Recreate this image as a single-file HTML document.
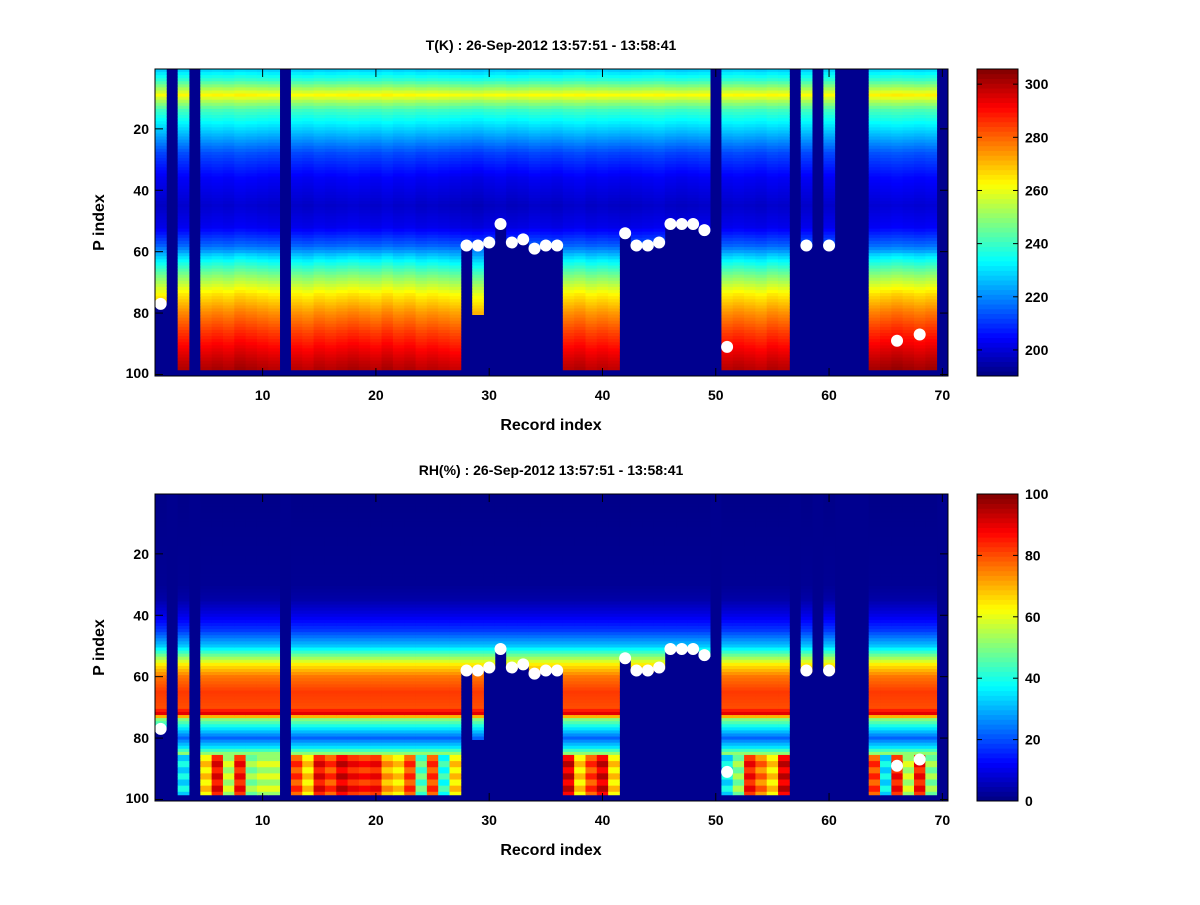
<!DOCTYPE html>
<html><head><meta charset="utf-8">
<style>
html,body{margin:0;padding:0;background:#fff;}
svg text{font-family:"Liberation Sans",Arial,sans-serif;font-weight:bold;fill:#000;}
</style></head>
<body>
<svg id="fig" width="1200" height="900" xmlns="http://www.w3.org/2000/svg">
<rect width="1200" height="900" fill="#fff"/>
</svg>
<script>
// ---- data ----
const recordIndex = Array.from({length:70},(_,i)=>i+1);
const colBottom = [76,0,98,0,98,98,98,98,98,98,98,0,98,98,98,98,98,98,98,98,98,98,98,98,98,98,98,58,80,57,51,57,56,59,58,58,98,98,98,98,98,54,58,58,57,51,51,51,53,0,98,98,98,98,98,98,0,58,0,58,0,0,0,98,98,98,98,98,98,0];
const tKnotRows = [1,4,7,9,11,14,20,28,36,45,52,58,63,68,74,80,86,92,96,98];
const tKnotVals = [228,238,252,262,252,240,228,212,203,198,202,215,232,247,263,274,283,291,296,298];
const tColOffset = [0,0,2,0,2,3,2,4,3,2,1,0,1,0,2,1,2,3,2,1,3,1,2,0,1,0,-1,-2,-3,-1,0,-2,-1,1,0,-1,1,2,0,1,0,-1,0,1,2,0,-1,0,1,0,1,2,1,0,2,1,0,1,0,1,0,0,0,3,4,5,4,3,4,0];
const rhKnotRows = [1,30,35,40,45,50,53,56,60,65,70,72,74,77,80,83,86];
const rhKnotVals = [1,2,4,10,18,32,48,64,76,82,80,90,50,35,22,35,60];
const rhLow = [0,0,40,0,70,92,60,90,55,60,60,0,85,70,92,85,95,90,88,90,75,70,85,50,85,45,70,0,0,0,0,0,0,0,0,0,95,70,85,95,70,0,0,0,0,0,0,0,0,0,40,55,90,80,70,95,0,0,0,0,0,0,0,85,40,90,60,90,55,0];
const dotCols = [1,28,29,30,31,32,33,34,35,36,42,43,44,45,46,47,48,49,51,58,60,66,68];
const dotRows = [77,58,58,57,51,57,56,59,58,58,54,58,58,57,51,51,51,53,91,58,58,89,87];
const xTicks = [10,20,30,40,50,60,70];
const yTicks = [20,40,60,80,100];
const tCbTicks = [200,220,240,260,280,300];
const rhCbTicks = [0,20,40,60,80,100];

// ---- helpers ----
const NS="http://www.w3.org/2000/svg";
const svg=document.getElementById('fig');
function mk(tag,attrs,parent){const e=document.createElementNS(NS,tag);for(const k in attrs)e.setAttribute(k,attrs[k]);(parent||svg).appendChild(e);return e;}
function jet(t){t=Math.max(0,Math.min(1,t));
  const r=Math.max(0,Math.min(1,Math.min(4*t-1.5,-4*t+4.5)));
  const g=Math.max(0,Math.min(1,Math.min(4*t-0.5,-4*t+3.5)));
  const b=Math.max(0,Math.min(1,Math.min(4*t+0.5,-4*t+2.5)));
  return `rgb(${Math.round(r*255)},${Math.round(g*255)},${Math.round(b*255)})`;}
function interp(rows,vals,r){if(r<=rows[0])return vals[0];for(let i=1;i<rows.length;i++){if(r<=rows[i]){const f=(r-rows[i-1])/(rows[i]-rows[i-1]);return vals[i-1]+f*(vals[i]-vals[i-1]);}}return vals[vals.length-1];}

function panel(y0,title,valueFn,vmin,vmax,cbTicks,pname){
  const X0=155,X1=948,Y1=y0+307;
  const xs=c=>X0+(c-0.5)*(X1-X0)/70;
  const ys=r=>y0+(r-0.5)*(Y1-y0)/100;
  const g=mk('g',{});
  
  
  const bg=mk('rect',{x:X0,y:y0,width:X1-X0,height:Y1-y0,fill:'#00008f'},g);
  
  
  const cw=(X1-X0)/70, rh=(Y1-y0)/100;
  for(let c=1;c<=70;c++){
    const nb=colBottom[c-1];
    for(let r=1;r<=nb;r++){
      const v=valueFn(c,r);
      const cell=mk('rect',{x:(xs(c)-cw/2).toFixed(2),y:(ys(r)-rh/2).toFixed(2),width:(cw+0.4).toFixed(2),height:(rh+0.4).toFixed(2),fill:jet((v-vmin)/(vmax-vmin))},g);
      
      
    }
  }
  for(let i=0;i<dotCols.length;i++){
    const d=mk('circle',{cx:xs(dotCols[i]),cy:ys(dotRows[i]),r:6,fill:'#fff'},g);
    
    
  }
  const fr=mk('rect',{x:X0,y:y0,width:X1-X0,height:Y1-y0,fill:'none',stroke:'#000','stroke-width':1},g);
  
  
  xTicks.forEach(t=>{const x=xs(t);
    mk('line',{x1:x,y1:Y1,x2:x,y2:Y1-8,stroke:'#000'},g);mk('line',{x1:x,y1:y0,x2:x,y2:y0+8,stroke:'#000'},g);
    const tx=mk('text',{x:x,y:Y1+24,'font-size':14,'text-anchor':'middle'},g);tx.textContent=t;
    });
  yTicks.forEach(t=>{const y=ys(t);
    mk('line',{x1:X0,y1:y,x2:X0+8,y2:y,stroke:'#000'},g);mk('line',{x1:X1,y1:y,x2:X1-8,y2:y,stroke:'#000'},g);
    const tx=mk('text',{x:X0-6,y:Math.min(y,Y1-3)+5,'font-size':14,'text-anchor':'end'},g);tx.textContent=t;
    });
  const tt=mk('text',{x:551,y:y0-19,'font-size':14,'text-anchor':'middle'},g);tt.textContent=title;
  
  const xl=mk('text',{x:551,y:Y1+54,'font-size':16,'text-anchor':'middle'},g);xl.textContent='Record index';
  
  const yl=mk('text',{x:0,y:0,'font-size':16,'text-anchor':'middle',transform:`translate(104,${(y0+Y1)/2}) rotate(-90)`},g);yl.textContent='P index';
  
  // colorbar
  const CX0=977,CX1=1018,n=64;
  const cb=mk('g',{},g);
  
  
  const sh=(Y1-y0)/n;
  for(let i=0;i<n;i++){mk('rect',{x:CX0,y:(Y1-(i+1)*sh).toFixed(2),width:CX1-CX0,height:(sh+0.4).toFixed(2),fill:jet((i+0.5)/n)},cb);}
  mk('rect',{x:CX0,y:y0,width:CX1-CX0,height:Y1-y0,fill:'none',stroke:'#000'},cb);
  const cy=v=>Y1-(v-vmin)/(vmax-vmin)*(Y1-y0);
  cbTicks.forEach(t=>{const y=cy(t);
    mk('line',{x1:CX0,y1:y,x2:CX0+5,y2:y,stroke:'#000'},cb);mk('line',{x1:CX1,y1:y,x2:CX1-5,y2:y,stroke:'#000'},cb);
    const tx=mk('text',{x:CX1+7,y:y+5,'font-size':14},cb);tx.textContent=t;
    });
}
panel(69,'T(K) : 26-Sep-2012 13:57:51 - 13:58:41',(c,r)=>interp(tKnotRows,tKnotVals,r)+tColOffset[c-1]*(r>60?1:0.5),190.2,305.7,tCbTicks,'temperature');
panel(494,'RH(%) : 26-Sep-2012 13:57:51 - 13:58:41',(c,r)=>{
  if(r>=86){return rhLow[c-1]+((r%4<2)?0:-8);}
  return interp(rhKnotRows,rhKnotVals,r);},0,100,rhCbTicks,'humidity');
</script>
</body></html>
